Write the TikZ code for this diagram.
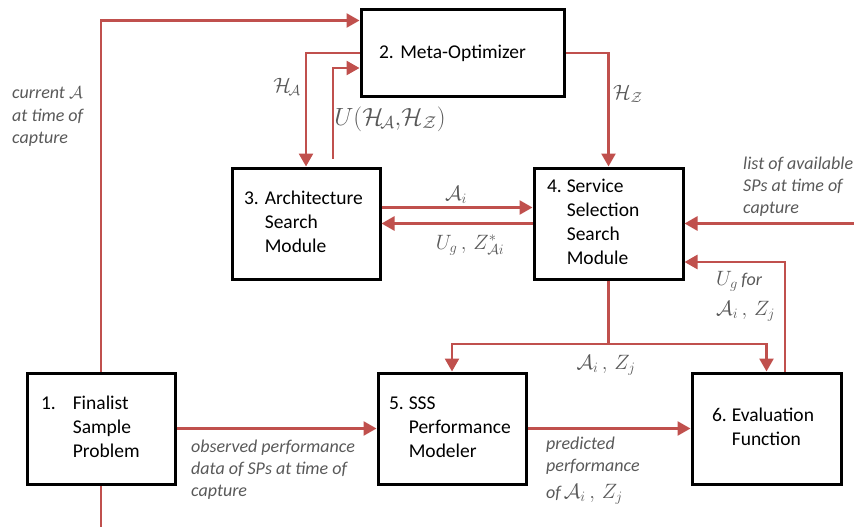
\documentclass[tikz,border=0pt]{standalone}
\usepackage{fontspec}
\setmainfont{Carlito}
\usetikzlibrary{arrows.meta}
\definecolor{flowred}{HTML}{C0504D}
\definecolor{notegray}{HTML}{595959}
\tikzset{
    box/.style = {rectangle, line width=3pt, draw=black, minimum height=111pt, inner xsep=12pt, align=left, font=\fontsize{19.5}{24}\selectfont},
    flow/.style = {-{Triangle[length=13pt,width=14pt]}, line width=2.6pt, draw=flowred},
    wire/.style = {line width=2.6pt, draw=flowred},
    note/.style = {text=notegray, align=left, inner sep=0pt, font=\fontsize{18}{22}\selectfont\itshape},
    mlab/.style = {text=notegray, inner sep=0pt, font=\fontsize{22}{26}\selectfont}
}
\newcommand{\steps}[2]{\begin{tabular}{@{}l@{\hspace{#1}}l@{}}#2\end{tabular}}
\frenchspacing

\begin{document}
\begin{tikzpicture}[x=1pt, y=-1pt]
  \useasboundingbox (0,0) rectangle (854,527);

  % modules
  \node[box, minimum height=86pt, inner xsep=18pt, text width=167pt] (opt) at (462.5,53) {2. Meta-Optimizer};
  \node[box, text width=124pt] (arch) at (306,223.5) {\steps{6pt}{3.&Architecture\\&Search\\&Module}};
  \node[box, inner xsep=13pt, text width=123pt] (ssm) at (608.5,223.5) {\steps{5pt}{4.&Service\\&Selection\\&Search\\&Module}};
  \node[box, inner xsep=14pt, text width=120pt] (fsp) at (101,428.5) {\steps{17pt}{1.&Finalist\\&Sample\\&Problem}};
  \node[box, inner xsep=11pt, text width=126pt] (perf) at (452,428.5) {\steps{5pt}{5.&SSS\\&Performance\\&Modeler}};
  \node[box, inner xsep=20pt, text width=109pt] (eval) at (766.5,428.5) {\steps{5pt}{6.&Evaluation\\&Function}};

  \coordinate (fsp in) at (101,527);
  \coordinate (sp in) at (854,223.5);
  \coordinate (split) at (608.5,344);

  % connectors
  \draw[wire] (fsp in) -- (fsp.south);
  \draw[flow] (fsp.north) |- ([yshift=-12pt]opt.north west);
  \draw[flow] (opt.west) -| (arch.north);
  \draw[flow] ([xshift=27pt,yshift=8pt]arch.north) |- ([yshift=-15pt]opt.west);
  \draw[flow] (opt.east) -| (ssm.north);
  \draw[flow] ([yshift=16pt]arch.east) -- ([yshift=16pt]ssm.west);
  \draw[flow] (ssm.west) -- (arch.east);
  \draw[flow] (sp in) -- (ssm.east);
  \draw[flow] ([xshift=18.5pt]eval.north) |- ([yshift=-38.5pt]ssm.east);
  \draw[wire] (ssm.south) -- (split);
  \draw[flow] (split) -| (perf.north);
  \draw[flow] (split) -| (eval.north);
  \draw[flow] (fsp.east) -- (perf.west);
  \draw[flow] (perf.east) -- (eval.west);

  % labels
  \node[note, anchor=base west] (cur) at (12,143) {current $\mathcal{A}$\\[1pt]at time of\\capture};
  \node[mlab, font=\fontsize{21}{24}\selectfont] (ha) at (287,87) {$\mathcal{H}_{\!\mathcal{A}}$};
  \node[mlab, font=\fontsize{24}{28}\selectfont] (uh) at (390,119) {$U(\mathcal{H}_{\!\mathcal{A}}{,}\mathcal{H}_{\mathcal{Z}})$};
  \node[mlab, font=\fontsize{21}{24}\selectfont, anchor=west] (hz) at (613,94) {$\mathcal{H}_{\mathcal{Z}}$};
  \node[mlab] (ai) at (456,195) {$\mathcal{A}_{i}$};
  \node[mlab] (ug) at (470,245) {$U_{g}\,,\,Z^{*}_{\mathcal{A}i}$};
  \node[note, anchor=base west] (list) at (743,213) {list of available\\SPs at time of\\capture};
  \node[mlab, align=left, anchor=base west] (ugf) at (716,315) {$U_{g}$\,{\fontsize{18}{22}\selectfont\itshape for}\\[4pt]$\mathcal{A}_{i}\,,\,Z_{j}$};
  \node[mlab] (aiz) at (606,365) {$\mathcal{A}_{i}\,,\,Z_{j}$};
  \node[note, anchor=base west] (obs) at (191,496) {observed performance\\data of SPs at time of\\capture};
  \node[note, anchor=base west] (pred) at (546,498) {predicted\\performance\\[5pt]of\,{\fontsize{22}{26}\selectfont\upshape$\mathcal{A}_{i}\,,\,Z_{j}$}};
\end{tikzpicture}
\end{document}
